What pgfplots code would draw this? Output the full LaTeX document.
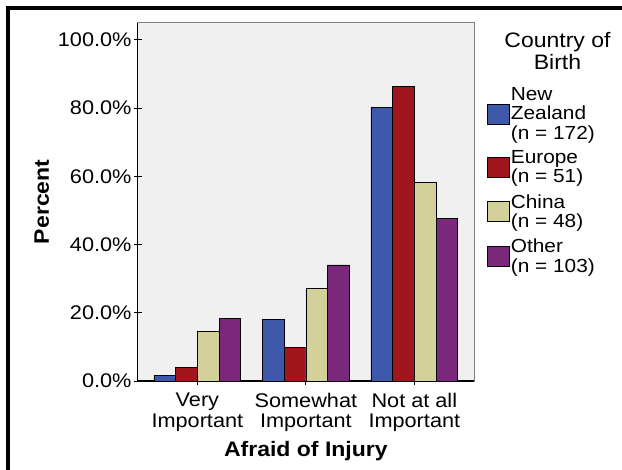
\documentclass[border=0pt]{standalone}
\usepackage{fontspec}
\setmainfont{Liberation Sans}[FakeStretch=1.1]
\usepackage{pgfplots}
\pgfplotsset{compat=1.18}

\definecolor{nzblue}{HTML}{3E58AC}
\definecolor{eured}{HTML}{A0161C}
\definecolor{cntan}{HTML}{D4D099}
\definecolor{otpurple}{HTML}{7B277B}
\definecolor{plotbg}{HTML}{F0F0F0}

\begin{document}
\begin{tikzpicture}
\useasboundingbox (0bp,0bp) rectangle (622bp,470bp);
\clip (0bp,0bp) rectangle (622bp,470bp);

% outer frame, cut off on the right and bottom like the source
\draw[line width=4bp] (8bp,-20bp) -- (8bp,462bp) -- (650bp,462bp);

\begin{axis}[
    at={(137.7bp,89bp)}, anchor=south west,
    scale only axis, width=336.3bp, height=358.3bp,
    ybar=0pt, bar width=0.2,
    xmin=-0.55, xmax=2.55, ymin=0, ymax=105,
    xtick={0,1,2},
    xticklabels={{Very\\Important},{Somewhat\\Important},{Not at all\\Important}},
    ytick={0,20,40,60,80,100},
    /pgf/number format/assume math mode=true,
    yticklabel={\pgfmathprintnumber[fixed,fixed zerofill,precision=1]{\tick}\%},
    xticklabel style={align=center, font=\fontsize{19.8}{20.5}\selectfont, inner sep=2bp, yshift=-6bp},
    yticklabel style={font=\fontsize{19.8}{20.5}\selectfont, inner sep=2bp},
    tick align=outside, major tick length=8bp,
    tick style={black, line width=0.8bp},
    axis lines=left, axis line style={-, black, line width=1.2bp},
    axis background/.style={fill=plotbg, draw=gray, line width=0.8bp},
    xlabel={Afraid of Injury}, ylabel={Percent},
    label style={font=\fontsize{21}{22}\selectfont\bfseries},
    xlabel style={at={(rel axis cs:0.5,-0.211)}, anchor=base},
    ylabel style={at={(rel axis cs:-0.2855,0.5)}, anchor=center},
    legend style={at={(1.03,0.829)}, anchor=north west, draw=none, fill=none,
        cells={anchor=west, align=left}, row sep=8bp,
        font=\fontsize{19}{19.5}\selectfont, nodes={inner sep=1bp}},
    legend image code/.code={\draw[#1] (0bp,-10bp) rectangle (22bp,10bp);},
]
\addplot[fill=nzblue, draw=black, line width=0.6bp] coordinates {(0,1.7) (1,18.0) (2,80.2)};
\addplot[fill=eured, draw=black, line width=0.6bp] coordinates {(0,3.9) (1,9.8) (2,86.3)};
\addplot[fill=cntan, draw=black, line width=0.6bp] coordinates {(0,14.6) (1,27.1) (2,58.3)};
\addplot[fill=otpurple, draw=black, line width=0.6bp] coordinates {(0,18.4) (1,34.0) (2,47.6)};
\addlegendentry{New\\Zealand\\(n = 172)}
\addlegendentry{Europe\\(n = 51)}
\addlegendentry{China\\(n = 48)}
\addlegendentry{Other\\(n = 103)}
\end{axis}

\node[align=center, font=\fontsize{21}{22}\selectfont] at (557.5bp,419bp) {Country of\\Birth};
\end{tikzpicture}
\end{document}
